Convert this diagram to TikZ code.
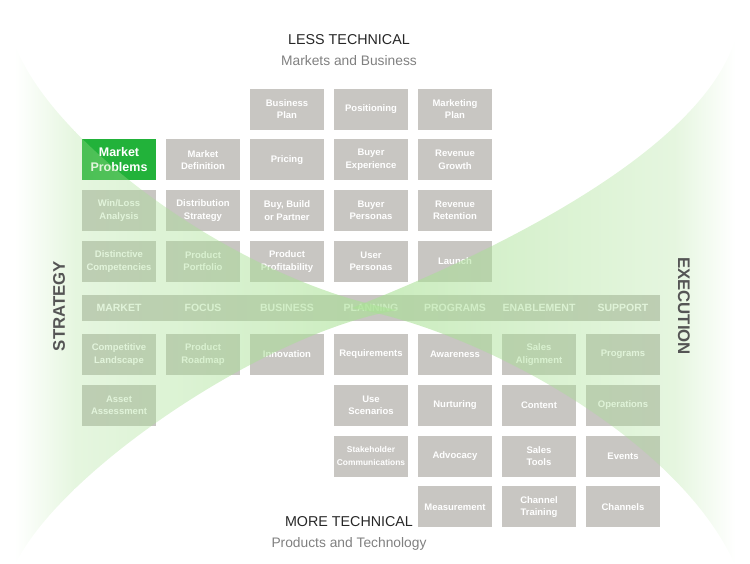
\documentclass[tikz,border=0pt]{standalone}
\usepackage{fontspec}
\setmainfont{Liberation Sans}
\usetikzlibrary{fadings}
\definecolor{cellgrey}{RGB}{200,198,194}
\definecolor{hotgreen}{RGB}{34,178,58}
\definecolor{horngreen}{RGB}{170,225,150}
\definecolor{sidegrey}{RGB}{85,85,85}
\definecolor{subgrey}{RGB}{128,128,128}
\tikzfading[name=fadeleft,left color=transparent!100,right color=transparent!0]
\tikzfading[name=faderight,left color=transparent!0,right color=transparent!100]
\newcommand\cellfont{\fontsize{9.5}{12.3}\selectfont\bfseries}
\tikzstyle{cell}=[fill=cellgrey,text=white,minimum width=74pt,minimum height=41pt,
  inner sep=1pt,align=center,font=\cellfont]
\tikzstyle{hotcell}=[cell,fill=hotgreen,font=\fontsize{12.5}{15}\selectfont\bfseries]
\tikzstyle{colhead}=[text=white,inner sep=0pt,font=\fontsize{10.5}{12}\selectfont\bfseries]
\tikzstyle{sidelabel}=[text=sidegrey,font=\fontsize{16.8}{18}\selectfont\bfseries]
\tikzstyle{horn}=[fill=horngreen,fill opacity=0.3]

\begin{document}
\begin{tikzpicture}[x=1pt,y=-1pt]
  \useasboundingbox (0,0) rectangle (750,563);
  % column and row centres
  \def\cA{119} \def\cB{203} \def\cC{287} \def\cD{371}
  \def\cE{455} \def\cF{539} \def\cG{623}
  \def\rA{109} \def\rB{159.8} \def\rC{210.6} \def\rD{261.4}
  \def\rH{308} % header band
  \def\rE{354.5} \def\rF{405.3} \def\rG{456.1} \def\rI{506.9}

  % TITLES
  \node[font=\fontsize{14.3}{16}\selectfont,text=black!85] (less) at (349,40) {LESS TECHNICAL};
  \node[font=\fontsize{13.8}{16}\selectfont,text=subgrey] (markets) at (349,61) {Markets and Business};
  \node[font=\fontsize{14.3}{16}\selectfont,text=black!85] (more) at (349,522) {MORE TECHNICAL};
  \node[font=\fontsize{13.8}{16}\selectfont,text=subgrey] (products) at (349,544) {Products and Technology};

  % STRATEGIC ROWS
  \node[cell] (bizplan) at (\cC,\rA) {Business\\Plan};
  \node[cell] (position) at (\cD,\rA) {Positioning};
  \node[cell] (mktplan) at (\cE,\rA) {Marketing\\Plan};

  \node[hotcell] (mktprob) at (\cA,\rB) {Market\\Problems};
  \node[cell] (mktdef) at (\cB,\rB) {Market\\Definition};
  \node[cell] (pricing) at (\cC,\rB) {Pricing};
  \node[cell] (buyexp) at (\cD,\rB) {Buyer\\Experience};
  \node[cell] (revgrow) at (\cE,\rB) {Revenue\\Growth};

  \node[cell] (winloss) at (\cA,\rC) {Win/Loss\\Analysis};
  \node[cell] (distrib) at (\cB,\rC) {Distribution\\Strategy};
  \node[cell] (buybuild) at (\cC,\rC) {Buy, Build\\or Partner};
  \node[cell] (buypers) at (\cD,\rC) {Buyer\\Personas};
  \node[cell] (revret) at (\cE,\rC) {Revenue\\Retention};

  \node[cell] (distcomp) at (\cA,\rD) {Distinctive\\Competencies};
  \node[cell] (portfolio) at (\cB,\rD) {Product\\Portfolio};
  \node[cell] (profit) at (\cC,\rD) {Product\\Profitability};
  \node[cell] (userpers) at (\cD,\rD) {User\\Personas};
  \node[cell] (launch) at (\cE,\rD) {Launch};

  % HEADER BAND
  \node[fill=cellgrey,minimum width=578pt,minimum height=26pt,inner sep=0pt] (band) at (371,\rH) {};
  \foreach \x/\name/\txt in {\cA/hmarket/MARKET,\cB/hfocus/FOCUS,\cC/hbusiness/BUSINESS,
      \cD/hplanning/PLANNING,\cE/hprograms/PROGRAMS,\cF/henable/ENABLEMENT,\cG/hsupport/SUPPORT}
    \node[colhead] (\name) at (\x,\rH) {\txt};

  % EXECUTION ROWS
  \node[cell] (complands) at (\cA,\rE) {Competitive\\Landscape};
  \node[cell] (roadmap) at (\cB,\rE) {Product\\Roadmap};
  \node[cell] (innov) at (\cC,\rE) {Innovation};
  \node[cell] (require) at (\cD,\rE) {Requirements};
  \node[cell] (aware) at (\cE,\rE) {Awareness};
  \node[cell] (salesalign) at (\cF,\rE) {Sales\\Alignment};
  \node[cell] (programs) at (\cG,\rE) {Programs};

  \node[cell] (asset) at (\cA,\rF) {Asset\\Assessment};
  \node[cell] (usescen) at (\cD,\rF) {Use\\Scenarios};
  \node[cell] (nurture) at (\cE,\rF) {Nurturing};
  \node[cell] (content) at (\cF,\rF) {Content};
  \node[cell] (operations) at (\cG,\rF) {Operations};

  \node[cell,font=\fontsize{8.4}{12.3}\selectfont\bfseries] (stakeholder) at (\cD,\rG) {Stakeholder\\Communications};
  \node[cell] (advocacy) at (\cE,\rG) {Advocacy};
  \node[cell] (salestools) at (\cF,\rG) {Sales\\Tools};
  \node[cell] (events) at (\cG,\rG) {Events};

  \node[cell] (measure) at (\cE,\rI) {Measurement};
  \node[cell] (chantrain) at (\cF,\rI) {Channel\\Training};
  \node[cell] (channels) at (\cG,\rI) {Channels};

  % HORNS
  \begin{scope} % strategy
    \clip (15,45) .. controls (55,150) and (250,285) .. (398,310)
      .. controls (270,330) and (60,470) .. (15,565) -- cycle;
    \fill[horn,path fading=fadeleft] (15,0) rectangle (75,563);
    \fill[horn] (75,0) rectangle (400,563);
    \fill[horn,fill opacity=0.5,path fading=fadeleft] (75,0) rectangle (400,563);
  \end{scope}
  \begin{scope} % execution
    \clip (735,40) .. controls (700,150) and (500,250) .. (352,308)
      .. controls (480,330) and (680,440) .. (735,565) -- cycle;
    \fill[horn,path fading=faderight] (675,0) rectangle (735,563);
    \fill[horn] (350,0) rectangle (675,563);
    \fill[horn,fill opacity=0.5,path fading=faderight] (350,0) rectangle (675,563);
  \end{scope}

  \node[sidelabel,rotate=90] (strategy) at (59,306) {STRATEGY};
  \node[sidelabel,rotate=-90] (execution) at (684,306) {EXECUTION};
\end{tikzpicture}
\end{document}
